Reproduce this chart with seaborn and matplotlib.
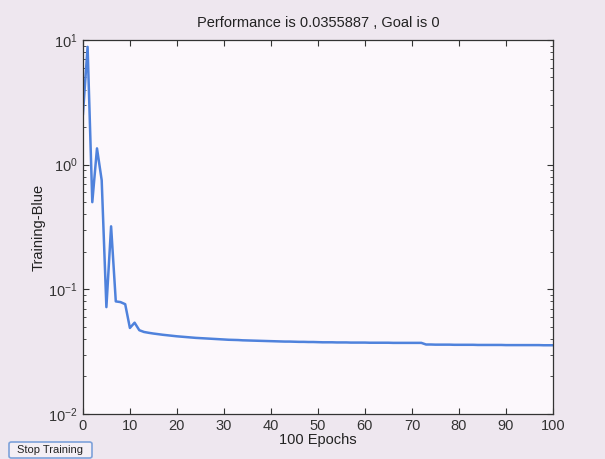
import numpy as np
import pandas as pd
import matplotlib
matplotlib.use("Agg")
import matplotlib.pyplot as plt
import seaborn as sns
from matplotlib.ticker import LogLocator
from matplotlib.patches import FancyBboxPatch

# training performance per epoch
epochs = list(range(0, 101))
perf = [2.5, 8.8, 0.50, 1.35, 0.75, 0.072, 0.32, 0.080, 0.079, 0.076,
        0.049, 0.054, 0.047, 0.0455, 0.0448, 0.0442, 0.0437, 0.0432, 0.0428, 0.0424,
        0.0420, 0.0417, 0.0414, 0.0411, 0.0408, 0.0406, 0.0404, 0.0402, 0.0400, 0.0398,
        0.0396, 0.0394, 0.0393, 0.0392, 0.0390, 0.0389, 0.0388, 0.0387, 0.0386, 0.0385,
        0.0384, 0.0383, 0.0382, 0.0381, 0.0381, 0.0380, 0.0379, 0.0379, 0.0378, 0.0378,
        0.0377, 0.0376, 0.0376, 0.0376, 0.0375, 0.0375, 0.0375, 0.0374, 0.0374, 0.0374,
        0.0374, 0.0373, 0.0373, 0.0373, 0.0373, 0.0373, 0.0372, 0.0372, 0.0372, 0.0372,
        0.0372, 0.0372, 0.0372, 0.0361, 0.0361, 0.0360, 0.0360, 0.0360, 0.0360, 0.0359,
        0.0359, 0.0359, 0.0359, 0.0359, 0.0358, 0.0358, 0.0358, 0.0358, 0.0358, 0.0358,
        0.0357, 0.0357, 0.0357, 0.0357, 0.0357, 0.0357, 0.0357, 0.0357, 0.0356, 0.0356,
        0.0356]
xticks = list(range(0, 101, 10))
title = "Performance is 0.0355887 , Goal is 0"

df = pd.DataFrame({"epoch": epochs, "perf": perf})

sns.set_style("ticks")
plt.rcParams["font.family"] = ["Liberation Sans", "DejaVu Sans"]
plt.rcParams["mathtext.fontset"] = "custom"
plt.rcParams["mathtext.rm"] = "Liberation Sans"

fig = plt.figure(figsize=(6.05, 4.59), dpi=100, facecolor="#eee7ef")
ax = fig.add_axes([0.137, 0.098, 0.777, 0.815])
ax.set_facecolor("#fcf8fc")

sns.lineplot(data=df, x="epoch", y="perf", ax=ax, color="#4f82dc", linewidth=1.8)

ax.set_yscale("log")
ax.set_ylim(0.01, 10)
ax.set_xlim(0, 100)
ax.set_xticks(xticks)
ax.yaxis.set_major_locator(LogLocator(base=10, numticks=10))
ax.yaxis.set_minor_locator(LogLocator(base=10, subs=np.arange(2, 10), numticks=20))

ax.tick_params(which="both", direction="in", top=True, right=True,
               colors="#333333", labelcolor="#333333", labelsize=10.5)
ax.tick_params(which="major", length=4)
ax.tick_params(which="minor", length=2)
for s in ax.spines.values():
    s.set_color("#333333")
    s.set_linewidth(0.9)

ax.set_title(title, fontsize=10.5, color="#222222", pad=9)
ax.set_xlabel("100 Epochs", fontsize=10.5, color="#222222", labelpad=0)
ax.set_ylabel("Training-Blue", fontsize=10.5, color="#222222", labelpad=2)

# stop training button
btn = FancyBboxPatch((9 / 605, 1 / 459), 83 / 605, 16 / 459,
                     boxstyle="round,pad=0,rounding_size=0.004",
                     transform=fig.transFigure, fc="#f4eff5", ec="#7ea2da", lw=1.2)
fig.patches.append(btn)
fig.text(50 / 605, 9 / 459, "Stop Training", fontsize=8, color="#222222",
         ha="center", va="center")

fig.savefig("out.png", dpi=100, facecolor=fig.get_facecolor())
